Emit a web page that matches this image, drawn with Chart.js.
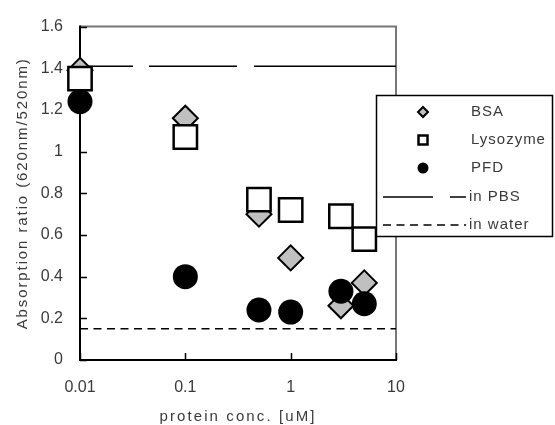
<!DOCTYPE html>
<html>
<head>
<meta charset="utf-8">
<script src="https://cdn.jsdelivr.net/npm/chart.js@4/dist/chart.umd.min.js"></script>
<style>
  html, body { margin: 0; padding: 0; background: #fff; }
  #wrap { width: 555px; height: 425px; }
</style>
</head>
<body>
<div id="wrap"><canvas id="chart" width="555" height="425"></canvas></div>
<script>
// values
const concentrations = [0.01, 0.1, 0.5, 1, 3, 5];
const bsaValues = [1.39, 1.16, 0.70, 0.49, 0.26, 0.37];
const lysozymeValues = [1.35, 1.07, 0.77, 0.72, 0.69, 0.58];
const pfdValues = [1.24, 0.40, 0.24, 0.23, 0.33, 0.27];
const pbsLevel = 1.41;
const waterLevel = 0.15;
const xTickValues = [0.01, 0.1, 1, 10];
const yTickValues = [0, 0.2, 0.4, 0.6, 0.8, 1, 1.2, 1.4, 1.6];
const seriesNames = ["BSA", "Lysozyme", "PFD", "in PBS", "in water"];
const xTitle = "protein conc. [uM]";
const yTitle = "Absorption ratio (620nm/520nm)";

function toPoints(values) {
    return concentrations.map((c, i) => ({ x: c, y: values[i] }));
}

function levelLine(level) {
    return [{ x: xTickValues[0], y: level }, { x: xTickValues[xTickValues.length - 1], y: level }];
}

const textColor = "#3a3a3a";

// axes, inward ticks, titles and the boxed legend
const framePlugin = {
    id: "frame",
    beforeDatasetsDraw(chart) {
        const ctx = chart.ctx;
        const a = chart.chartArea;
        const xs = chart.scales.x, ys = chart.scales.y;
        ctx.save();
        ctx.lineWidth = 2;
        ctx.strokeStyle = "#777";
        ctx.beginPath();
        ctx.moveTo(a.left, a.top);
        ctx.lineTo(a.right, a.top);
        ctx.lineTo(a.right, a.bottom);
        ctx.stroke();
        ctx.strokeStyle = "#000";
        ctx.beginPath();
        ctx.moveTo(a.left, a.top - 1);
        ctx.lineTo(a.left, a.bottom);
        ctx.lineTo(a.right + 1, a.bottom);
        ctx.stroke();
        ctx.lineWidth = 1.5;
        ctx.beginPath();
        yTickValues.forEach(v => {
            const y = Math.round(ys.getPixelForValue(v)) + 0.5;
            ctx.moveTo(a.left, y);
            ctx.lineTo(a.left + 7, y);
        });
        xTickValues.forEach(v => {
            const x = Math.round(xs.getPixelForValue(v)) + 0.5;
            ctx.moveTo(x, a.bottom);
            ctx.lineTo(x, a.bottom - 7);
        });
        ctx.stroke();
        ctx.restore();
    },
    afterDraw(chart) {
        const ctx = chart.ctx;
        const a = chart.chartArea;
        ctx.save();
        ctx.fillStyle = textColor;
        ctx.font = "15px 'Liberation Sans', Arial, sans-serif";
        ctx.letterSpacing = "2.1px";
        ctx.textAlign = "center";
        ctx.textBaseline = "middle";
        ctx.fillText(xTitle, (a.left + a.right) / 2, 417);
        ctx.letterSpacing = "1.9px";
        ctx.translate(23, (a.top + a.bottom) / 2);
        ctx.rotate(-Math.PI / 2);
        ctx.fillText(yTitle, 0, 0);
        ctx.restore();

        // legend box
        const box = { x: 376.5, y: 95.5, w: 176, h: 141 };
        ctx.save();
        ctx.fillStyle = "#fff";
        ctx.fillRect(box.x, box.y, box.w, box.h);
        ctx.strokeStyle = "#000";
        ctx.lineWidth = 1.5;
        ctx.strokeRect(box.x, box.y, box.w, box.h);

        const rows = [112, 140, 168, 197, 225];
        const mx = 423;
        // BSA diamond
        ctx.beginPath();
        ctx.moveTo(mx, rows[0] - 5);
        ctx.lineTo(mx + 5, rows[0]);
        ctx.lineTo(mx, rows[0] + 5);
        ctx.lineTo(mx - 5, rows[0]);
        ctx.closePath();
        ctx.fillStyle = "#c0c0c0";
        ctx.fill();
        ctx.lineWidth = 2;
        ctx.stroke();
        // Lysozyme square
        ctx.fillStyle = "#fff";
        ctx.fillRect(mx - 4.5, rows[1] - 4.5, 9, 9);
        ctx.lineWidth = 2.5;
        ctx.strokeRect(mx - 4.5, rows[1] - 4.5, 9, 9);
        // PFD circle
        ctx.beginPath();
        ctx.arc(mx, rows[2], 5.5, 0, Math.PI * 2);
        ctx.fillStyle = "#000";
        ctx.fill();
        // PBS line
        ctx.lineWidth = 1.5;
        ctx.beginPath();
        ctx.moveTo(383, rows[3]);
        ctx.lineTo(433, rows[3]);
        ctx.moveTo(450, rows[3]);
        ctx.lineTo(466, rows[3]);
        ctx.stroke();
        // water line
        ctx.setLineDash([8, 5.5]);
        ctx.beginPath();
        ctx.moveTo(383, rows[4]);
        ctx.lineTo(466, rows[4]);
        ctx.stroke();
        ctx.setLineDash([]);

        ctx.fillStyle = textColor;
        ctx.font = "15px 'Liberation Sans', Arial, sans-serif";
        ctx.letterSpacing = "1px";
        ctx.textAlign = "left";
        ctx.textBaseline = "middle";
        seriesNames.forEach((name, i) => {
            ctx.fillText(name, i >= 3 ? 469 : 471, rows[i]);
        });
        ctx.restore();
    }
};

const ctx = document.getElementById("chart").getContext("2d");

new Chart(ctx, {
    type: "scatter",
    data: {
        datasets: [
            {
                label: seriesNames[0],
                data: toPoints(bsaValues),
                pointStyle: "rectRot",
                pointRadius: 12.5,
                backgroundColor: "#c0c0c0",
                borderColor: "#000",
                borderWidth: 2,
                clip: false,
                order: 3
            },
            {
                label: seriesNames[1],
                data: toPoints(lysozymeValues),
                pointStyle: "rect",
                pointRadius: 16.5,
                backgroundColor: "#fff",
                borderColor: "#000",
                borderWidth: 2.5,
                clip: false,
                order: 1
            },
            {
                label: seriesNames[2],
                data: toPoints(pfdValues),
                pointStyle: "circle",
                pointRadius: 12.5,
                backgroundColor: "#000",
                borderColor: "#000",
                borderWidth: 0,
                clip: false,
                order: 2
            },
            {
                label: seriesNames[3],
                data: levelLine(pbsLevel),
                showLine: true,
                pointRadius: 0,
                borderColor: "#000",
                borderWidth: 1.5,
                borderDash: [53, 16, 88, 17, 400],
                order: 4
            },
            {
                label: seriesNames[4],
                data: levelLine(waterLevel),
                showLine: true,
                pointRadius: 0,
                borderColor: "#000",
                borderWidth: 1.5,
                borderDash: [8, 5.5],
                order: 5
            }
        ]
    },
    options: {
        responsive: false,
        animation: false,
        layout: { padding: { top: 16, right: 159, left: 0, bottom: 0 } },
        plugins: {
            legend: { display: false },
            tooltip: { enabled: false }
        },
        scales: {
            x: {
                type: "logarithmic",
                min: 0.01,
                max: 10,
                afterFit: scale => { scale.height = 65; },
                afterBuildTicks: scale => {
                    scale.ticks = xTickValues.map(v => ({ value: v }));
                },
                grid: { display: false, drawTicks: false },
                border: { display: false },
                ticks: {
                    padding: 18,
                    color: textColor,
                    font: { family: "'Liberation Sans', Arial, sans-serif", size: 16 },
                    maxRotation: 0,
                    autoSkip: false,
                    callback: v => String(v)
                }
            },
            y: {
                min: 0,
                max: 1.6,
                afterFit: scale => { scale.width = 80; },
                afterBuildTicks: scale => {
                    scale.ticks = yTickValues.map(v => ({ value: v }));
                },
                grid: { display: false, drawTicks: false },
                border: { display: false },
                ticks: {
                    padding: 17,
                    color: textColor,
                    font: { family: "'Liberation Sans', Arial, sans-serif", size: 16 },
                    callback: v => String(Math.round(v * 10) / 10)
                }
            }
        }
    },
    plugins: [framePlugin]
});
</script>
</body>
</html>
